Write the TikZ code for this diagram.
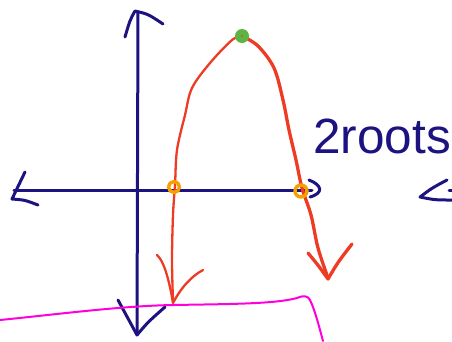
\documentclass[tikz,border=0pt]{standalone}
\usepackage{fontspec}
\setmainfont{Liberation Sans}
\definecolor{navy}{HTML}{1C1280}
\definecolor{pred}{HTML}{EE3B24}
\definecolor{pgreen}{HTML}{5DB443}
\definecolor{porange}{HTML}{F7A100}
\definecolor{pmag}{HTML}{FF00DC}
\begin{document}
\begin{tikzpicture}[x=1pt,y=-1pt,line cap=round,line join=round,
  axis/.style={navy,line width=3pt},
  curve/.style={pred,line width=2.3pt},
  ring/.style={porange,line width=3.4pt}]
\useasboundingbox (0,0) rectangle (452,341);
% y axis
\draw[axis] (138,12) -- (137,333);
\draw[axis] (125,37) .. controls (130,20) .. (135,11) .. controls (148,14) .. (163,24);
\draw[axis] (118,300) .. controls (128,318) .. (137,335) .. controls (148,322) .. (165,307);
% x axis
\draw[axis] (14,190) -- (312,190);
\draw[axis] (25,172) .. controls (18,185) .. (12,199) .. controls (25,200) .. (38,205);
\draw[axis] (309,180) .. controls (322,185) and (324,193) .. (310,197);
% parabola
\draw[curve] plot[smooth,tension=0.55] coordinates {(173,302) (172,260) (173,215) (175,185) (177,150) (185,115) (192,88) (210,63) (232,40) (242,36)};
\draw[curve,line width=3.3pt] plot[smooth,tension=0.55] coordinates {(242,36) (258,46) (274,68) (283,100) (289,130) (296,160) (302,188) (311,215) (318,248) (328,278)};
\draw[curve] (157,255) .. controls (165,262) and (170,285) .. (173,303) .. controls (182,286) and (192,276) .. (203,270);
\draw[curve,line width=3.3pt] (308,253) .. controls (318,265) .. (328,279) .. controls (338,262) .. (352,244);
% points
\fill[pgreen] (242,36) circle (7);
\fill[pred] (242,36) circle (1);
\draw[ring] (174,187) circle (5.5);
\draw[ring] (301,191) circle (6);
% label
\node[navy,anchor=base west,font=\fontsize{49.5}{50}\selectfont,inner sep=0pt] (lbl) at (313,153) {2roots};
% partial arrow at right
\draw[axis] (447,180) .. controls (432,188) .. (420,197) .. controls (435,200) .. (452,200);
\draw[axis] (449,190) -- (452,190);
% magenta line
\draw[pmag,line width=2pt] (0,320) .. controls (60,314) and (120,306) .. (173,305) .. controls (230,304) and (275,304) .. (297,298) .. controls (304,295) and (308,296) .. (310,300) .. controls (315,310) and (320,330) .. (323,341);
\end{tikzpicture}
\end{document}
